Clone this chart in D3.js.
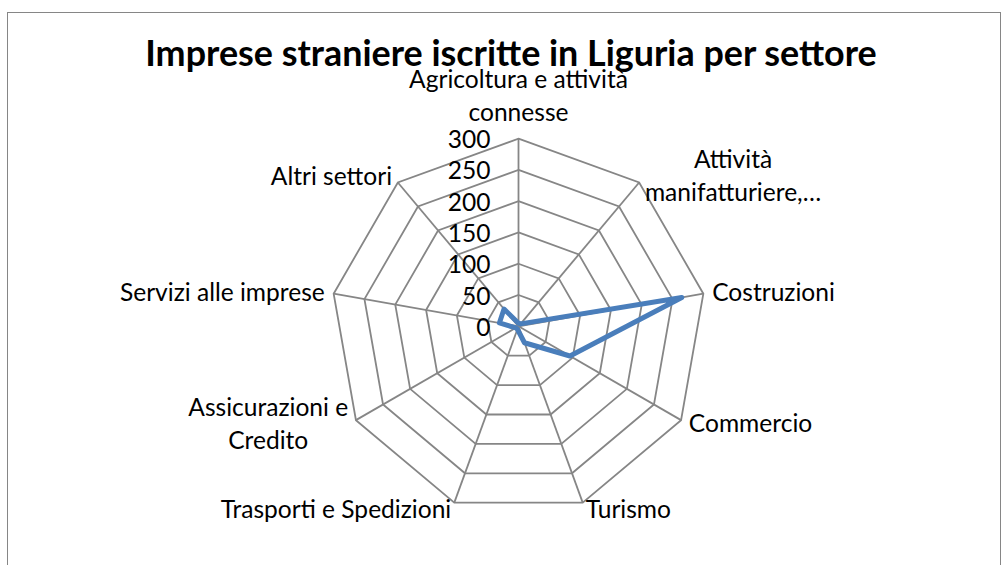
<!DOCTYPE html>
<html><head><meta charset="utf-8">
<script src="https://cdn.jsdelivr.net/npm/d3@7"></script>
<style>html,body{margin:0;padding:0;background:#fff;}svg{display:block;}</style>
</head><body>
<svg id="c" width="1006" height="565"></svg>
<script>
const title = "Imprese straniere iscritte in Liguria per settore";
const categories = ["Agricoltura e attività connesse","Attività manifatturiere,…","Costruzioni","Commercio","Turismo","Trasporti e Spedizioni","Assicurazioni e Credito","Servizi alle imprese","Altri settori"];
const labelLines = [["Agricoltura e attività","connesse"],["Attività","manifatturiere,…"],["Costruzioni"],["Commercio"],["Turismo"],["Trasporti e Spedizioni"],["Assicurazioni e","Credito"],["Servizi alle imprese"],["Altri settori"]];
const values = [5, 5, 265, 95, 28, 5, 5, 31, 36];
const tickValues = [0, 50, 100, 150, 200, 250, 300];

const FONT = "Lato, 'Open Sans', sans-serif";
const svg = d3.select("#c");
svg.append("rect").attr("x",7.5).attr("y",12.5).attr("width",993).attr("height",600)
  .attr("fill","#fff").attr("stroke","#868686").attr("stroke-width",1);

function fitSize(text, weight, target){
  const t = svg.append("text").attr("font-family",FONT).attr("font-weight",weight).attr("font-size",100).text(text);
  const w = t.node().getComputedTextLength(); t.remove();
  return 100*target/w;
}
const labelSize = fitSize("Servizi alle imprese", "normal", 205);
const titleSize = fitSize(title, "bold", 732);

const cx = 518.5, cy = 326.3, R = 187.7;
const n = categories.length;
const r = d3.scaleLinear().domain([0, 300]).range([0, R]);
const ang = d3.scalePoint().domain(d3.range(n)).range([0, 2*Math.PI*(n-1)/n]);
const g = svg.append("g").attr("transform",`translate(${cx},${cy})`);
const pt = (i, v) => [Math.sin(ang(i))*r(v), -Math.cos(ang(i))*r(v)];

const ringLine = d3.line().curve(d3.curveLinearClosed);
g.selectAll("path.ring").data(tickValues.slice(1)).join("path").attr("class","ring")
  .attr("d", t => ringLine(d3.range(n).map(i => pt(i, t))))
  .attr("fill","none").attr("stroke","#868686").attr("stroke-width",1.8);
g.selectAll("line.spoke").data(d3.range(n)).join("line").attr("class","spoke")
  .attr("x1",0).attr("y1",0).attr("x2",i=>pt(i,300)[0]).attr("y2",i=>pt(i,300)[1])
  .attr("stroke","#868686").attr("stroke-width",1.8);

g.selectAll("text.tick").data(tickValues).join("text").attr("class","tick")
  .attr("x",-28).attr("y",t=>-r(t)+9.5).attr("text-anchor","end")
  .attr("font-family",FONT).attr("font-size",labelSize).attr("fill","#000").text(t=>t);

g.append("path").attr("d", ringLine(values.map((v,i)=>pt(i,v))))
  .attr("fill","none").attr("stroke","#4a7ebb").attr("stroke-width",5).attr("stroke-linejoin","round");

const LH = 33, CAP = 8.3;
labelLines.forEach((lines, i) => {
  const a = ang(i), s = Math.sin(a), c = Math.cos(a);
  const [vx, vy] = pt(i, 300);
  const grp = g.append("g");
  const texts = lines.map(l => grp.append("text").attr("font-family",FONT).attr("font-size",labelSize).attr("fill","#000").text(l));
  const widths = texts.map(t => t.node().getComputedTextLength());
  const bw = d3.max(widths);
  let centerX, firstBase;
  if (Math.abs(s) < 1e-6) {
    centerX = vx;
    const lastBase = vy - 17.7;
    firstBase = lastBase - (lines.length-1)*LH;
  } else {
    const ox = vx + s*9, oy = vy - c*8;
    centerX = s > 0 ? ox + bw/2 : ox - bw/2;
    firstBase = oy - (lines.length-1)*LH/2 + CAP;
  }
  texts.forEach((t, k) => t.attr("x", centerX).attr("y", firstBase + k*LH).attr("text-anchor","middle"));
});

svg.append("text").attr("x",511).attr("y",66).attr("text-anchor","middle")
  .attr("font-family",FONT).attr("font-weight","bold").attr("font-size",titleSize).attr("fill","#000").text(title);
</script>
</body></html>
